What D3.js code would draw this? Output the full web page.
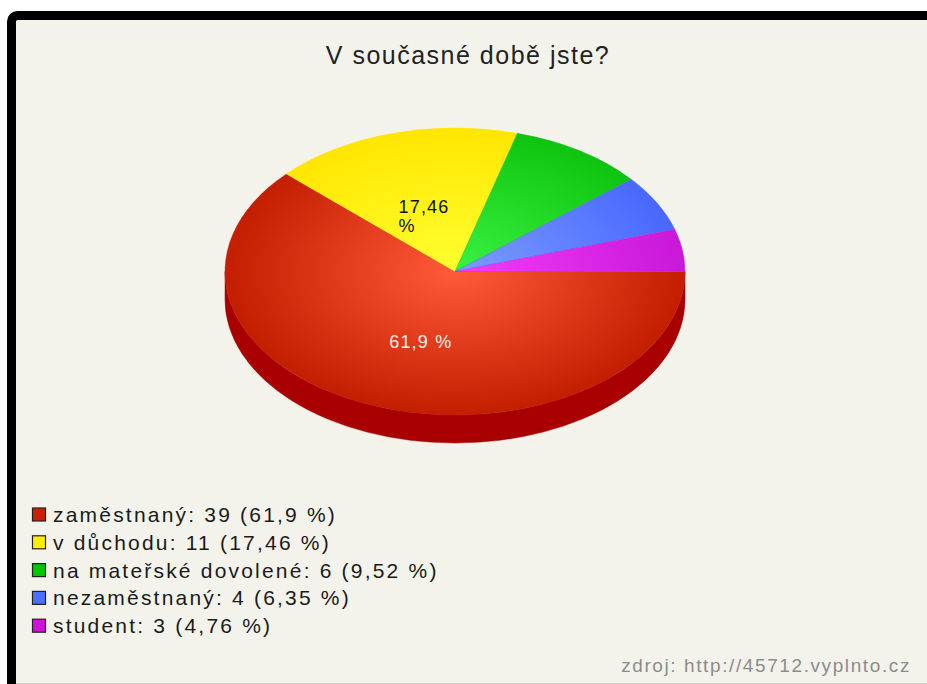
<!DOCTYPE html>
<html>
<head>
<meta charset="utf-8">
<script src="https://cdn.jsdelivr.net/npm/d3@7"></script>
<style>
  html, body { margin: 0; padding: 0; background: #fff; }
  svg { display: block; font-family: "Liberation Sans", Arial, sans-serif; }
</style>
</head>
<body>
<svg id="chart"></svg>
<script>
// data
const categories = ["zaměstnaný", "v důchodu", "na mateřské dovolené", "nezaměstnaný", "student"];
const counts = [39, 11, 6, 4, 3];
const topColors = [["#ff5a3a", "#c41e00"], ["#ffff30", "#ffe600"], ["#3af244", "#0ec40e"], ["#7c9cff", "#4868ff"], ["#f63cfa", "#c818d8"]];
const legendColors = ["#c82000", "#ffee00", "#00c400", "#4a70ff", "#cc14d8"];
const sideColor = "#a80000";

const W = 927, H = 684;
const cx = 455, cy = 271.5, rx = 230, ry = 143.5, depth = 28;

const svg = d3.select("#chart").attr("width", W).attr("height", H);

// frame
svg.append("rect")
    .attr("x", 11.5).attr("y", 15.5).attr("width", W + 20).attr("height", H + 20)
    .attr("rx", 6).attr("fill", "#f4f3eb").attr("stroke", "#000").attr("stroke-width", 9);
svg.append("line")
    .attr("x1", 16).attr("x2", W).attr("y1", 683.5).attr("y2", 683.5)
    .attr("stroke", "#cfcfc8");

// title
svg.append("text")
    .attr("x", 468).attr("y", 64)
    .attr("text-anchor", "middle")
    .style("font-size", "25px").style("letter-spacing", "1.5px").style("fill", "#222")
    .text("V současné době jste?");

const total = d3.sum(counts);
const data = categories.map((c, i) => ({ name: c, value: counts[i], i }));
const fmt = v => (Math.round(v * 100) / 100).toString().replace(".", ",");

const pie = d3.pie().value(d => d.value).sort(null)
    .startAngle(Math.PI / 2).endAngle(Math.PI / 2 + 2 * Math.PI);
const arcs = pie(data);

const pt = (a, f = 1, dy = 0) => [cx + rx * f * Math.sin(a), cy - ry * f * Math.cos(a) + dy];

// gradients
const defs = svg.append("defs");
topColors.forEach((c, i) => {
    const g = defs.append("radialGradient")
        .attr("id", "grad" + i)
        .attr("gradientUnits", "userSpaceOnUse")
        .attr("cx", cx).attr("cy", cy).attr("r", rx)
        .attr("gradientTransform", `translate(${cx},${cy}) scale(1,${ry / rx}) translate(${-cx},${-cy})`);
    g.append("stop").attr("offset", "0%").attr("stop-color", c[0]);
    g.append("stop").attr("offset", "100%").attr("stop-color", c[1]);
});

// side walls (front half only)
const sideG = svg.append("g");
arcs.forEach(d => {
    [[Math.PI / 2, 1.5 * Math.PI], [2.5 * Math.PI, 3.5 * Math.PI]].forEach(([lo, hi]) => {
        const s = Math.max(d.startAngle, lo), e = Math.min(d.endAngle, hi);
        if (e <= s) return;
        const p0 = pt(s), p1 = pt(e), q1 = pt(e, 1, depth), q0 = pt(s, 1, depth);
        sideG.append("path")
            .attr("d", `M${p0}A${rx},${ry} 0 0 1 ${p1}L${q1}A${rx},${ry} 0 0 0 ${q0}Z`)
            .attr("fill", sideColor).attr("stroke", sideColor).attr("stroke-width", 0.5);
    });
});

// top face
const faceG = svg.append("g");
arcs.forEach(d => {
    const p0 = pt(d.startAngle), p1 = pt(d.endAngle);
    const large = d.endAngle - d.startAngle > Math.PI ? 1 : 0;
    faceG.append("path")
        .attr("d", `M${cx},${cy}L${p0}A${rx},${ry} 0 ${large} 1 ${p1}Z`)
        .attr("fill", `url(#grad${d.data.i})`)
        .attr("stroke", topColors[d.data.i][1]).attr("stroke-width", 0.4);
});

// slice labels (only large slices)
arcs.forEach(d => {
    const share = d.value / total * 100;
    if (share < 10) return;
    const mid = (d.startAngle + d.endAngle) / 2;
    const [lx, lyy] = pt(mid, 0.49);
    const txt = fmt(share) + " %";
    const t = svg.append("text")
        .style("font-size", "18px").style("letter-spacing", "1.2px")
        .style("fill", d.data.i === 0 ? "#f8f0ea" : "#111");
    if (share > 30) {
        t.attr("x", lx + 7).attr("y", lyy + 11).attr("text-anchor", "middle").text(txt);
    } else {
        // narrow slice: number and % on two lines, left aligned
        txt.split(" ").forEach((p, k) => {
            t.append("tspan").attr("x", lx - 26).attr("y", lyy + 9 + k * 19).text(p);
        });
    }
});

// legend
const legY = d3.scalePoint().domain(categories).range([514.5, 514.5 + 4 * 27.8]);
const leg = svg.append("g");
data.forEach(d => {
    const y = legY(d.name);
    leg.append("rect")
        .attr("x", 32.5).attr("y", y - 6.5).attr("width", 13).attr("height", 13)
        .attr("fill", legendColors[d.i]).attr("stroke", "#222").attr("stroke-width", 1.2);
    leg.append("text")
        .attr("x", 53).attr("y", y + 7.5)
        .style("font-size", "21px").style("letter-spacing", "2.2px").style("fill", "#1a1a1a")
        .text(`${d.name}: ${d.value} (${fmt(d.value / total * 100)} %)`);
});

// source
svg.append("text")
    .attr("x", 911).attr("y", 672)
    .attr("text-anchor", "end")
    .style("font-size", "19px").style("letter-spacing", "1.6px").style("fill", "#8c8c8c")
    .text("zdroj: http://45712.vyplnto.cz");
</script>
</body>
</html>
